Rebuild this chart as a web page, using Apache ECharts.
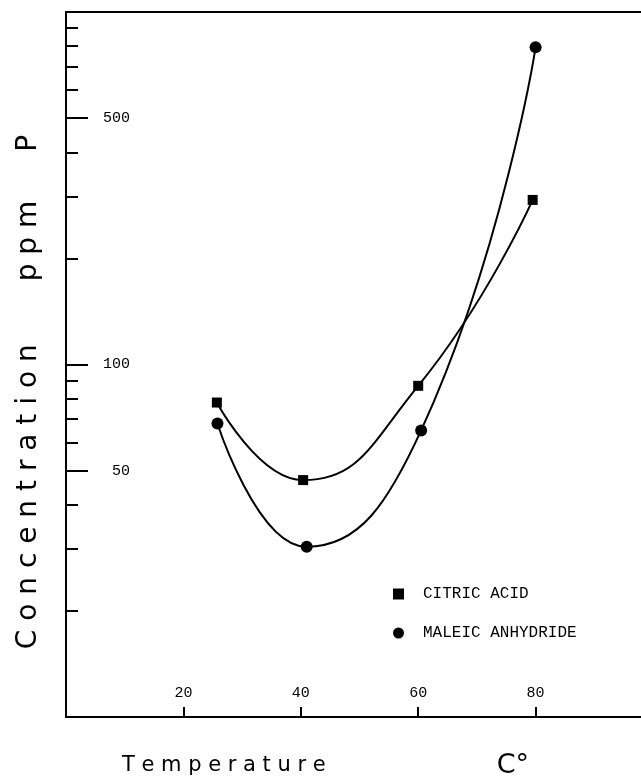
<!DOCTYPE html>
<html>
<head>
<meta charset="utf-8">
<script src="https://cdn.jsdelivr.net/npm/echarts@6/dist/echarts.min.js"></script>
<style>
  html, body { margin: 0; padding: 0; background: #fff; }
  #chart { width: 641px; height: 783px; }
</style>
</head>
<body>
<div id="chart"></div>
<script>
// ---- data ----
const seriesNames = ['CITRIC ACID', 'MALEIC ANHYDRIDE'];
const temperatureCitric = [25.7, 40.4, 60, 79.5];
const citricAcid = [78, 47, 87, 293];
const temperatureMaleic = [25.8, 41, 60.5, 80];
const maleicAnhydride = [68, 30.4, 65, 794];
const xTicks = [20, 40, 60, 80];
const yMajorTicks = [50, 100, 500];
const yMinorTicks = [20, 30, 40, 60, 70, 80, 90, 200, 300, 400, 600, 700, 800, 900];

const sp = ' ';
const gapSp = '\u2005';
const spaced = w => w.split('').join(sp);
const yName = spaced('Concentration') + gapSp.repeat(9) + spaced('ppm') + gapSp.repeat(7) + 'P';
const xNameText = 'T e m p e r a t u r e';

const pairs = (xs, ys) => xs.map((x, i) => [x, ys[i]]);
const log10 = v => Math.log10(v);

const chart = echarts.init(document.getElementById('chart'), null, { renderer: 'canvas' });
chart.setOption({
  animation: false,
  backgroundColor: '#fff',
  grid: {
    left: 66, top: 12, right: -12, bottom: 66,
    show: true, borderColor: '#000', borderWidth: 2,
    outerBoundsMode: 'none'
  },
  legend: {
    orient: 'vertical',
    left: 393, top: 586,
    padding: 0,
    itemGap: 23,
    itemWidth: 11, itemHeight: 11,
    data: [
      { name: seriesNames[0], icon: 'rect' },
      { name: seriesNames[1], icon: 'circle' }
    ],
    textStyle: { fontFamily: 'Liberation Mono', fontSize: 16, color: '#000', padding: [0, 0, 0, 14] }
  },
  xAxis: {
    type: 'value', min: 0, max: 100, interval: 20,
    name: '{t|' + xNameText + '}{g|}{c|C°}',
    nameLocation: 'middle',
    nameGap: 35,
    nameTextStyle: {
      padding: [0, 68, 0, 0],
      rich: {
        t: { fontFamily: 'DejaVu Sans', fontSize: 21, color: '#000' },
        g: { width: 171 },
        c: { fontFamily: 'DejaVu Sans', fontSize: 27, color: '#000' }
      }
    },
    axisLine: { show: true, lineStyle: { color: '#000', width: 2 } },
    axisTick: { show: true, inside: true, length: 10, customValues: xTicks, lineStyle: { color: '#000', width: 2 } },
    axisLabel: { show: true, inside: true, margin: 16, customValues: xTicks,
      fontFamily: 'Liberation Mono', fontSize: 15, color: '#000' },
    splitLine: { show: false }
  },
  yAxis: [
    {
      type: 'log', logBase: 10, min: 10, max: 1000,
      name: yName,
      nameLocation: 'middle',
      nameGap: 23,
      nameTextStyle: { fontFamily: 'DejaVu Sans', fontSize: 28, color: '#000', padding: [0, 55, 0, 0] },
      axisLine: { show: true, lineStyle: { color: '#000', width: 2 } },
      axisTick: { show: false },
      axisLabel: { show: false },
      splitLine: { show: false }
    },
    {
      type: 'value', min: 1, max: 3, position: 'left',
      axisLine: { show: false },
      axisTick: { show: true, inside: true, length: 22, customValues: yMajorTicks.map(log10),
        lineStyle: { color: '#000', width: 2 } },
      axisLabel: { show: true, inside: true, margin: 64, align: 'right',
        customValues: yMajorTicks.map(log10),
        formatter: v => String(Math.round(Math.pow(10, v))),
        fontFamily: 'Liberation Mono', fontSize: 15, color: '#000' },
      splitLine: { show: false }
    },
    {
      type: 'value', min: 1, max: 3, position: 'left',
      axisLine: { show: false },
      axisTick: { show: true, inside: true, length: 12, customValues: yMinorTicks.map(log10),
        lineStyle: { color: '#000', width: 2 } },
      axisLabel: { show: false },
      splitLine: { show: false }
    }
  ],
  series: [
    {
      name: seriesNames[0], type: 'line', yAxisIndex: 0,
      data: pairs(temperatureCitric, citricAcid),
      smooth: true,
      symbol: 'rect', symbolSize: 10,
      itemStyle: { color: '#000' },
      lineStyle: { color: '#000', width: 2 }
    },
    {
      name: seriesNames[1], type: 'line', yAxisIndex: 0,
      data: pairs(temperatureMaleic, maleicAnhydride),
      smooth: true,
      symbol: 'circle', symbolSize: 12,
      itemStyle: { color: '#000' },
      lineStyle: { color: '#000', width: 2 }
    }
  ]
});
</script>
</body>
</html>
